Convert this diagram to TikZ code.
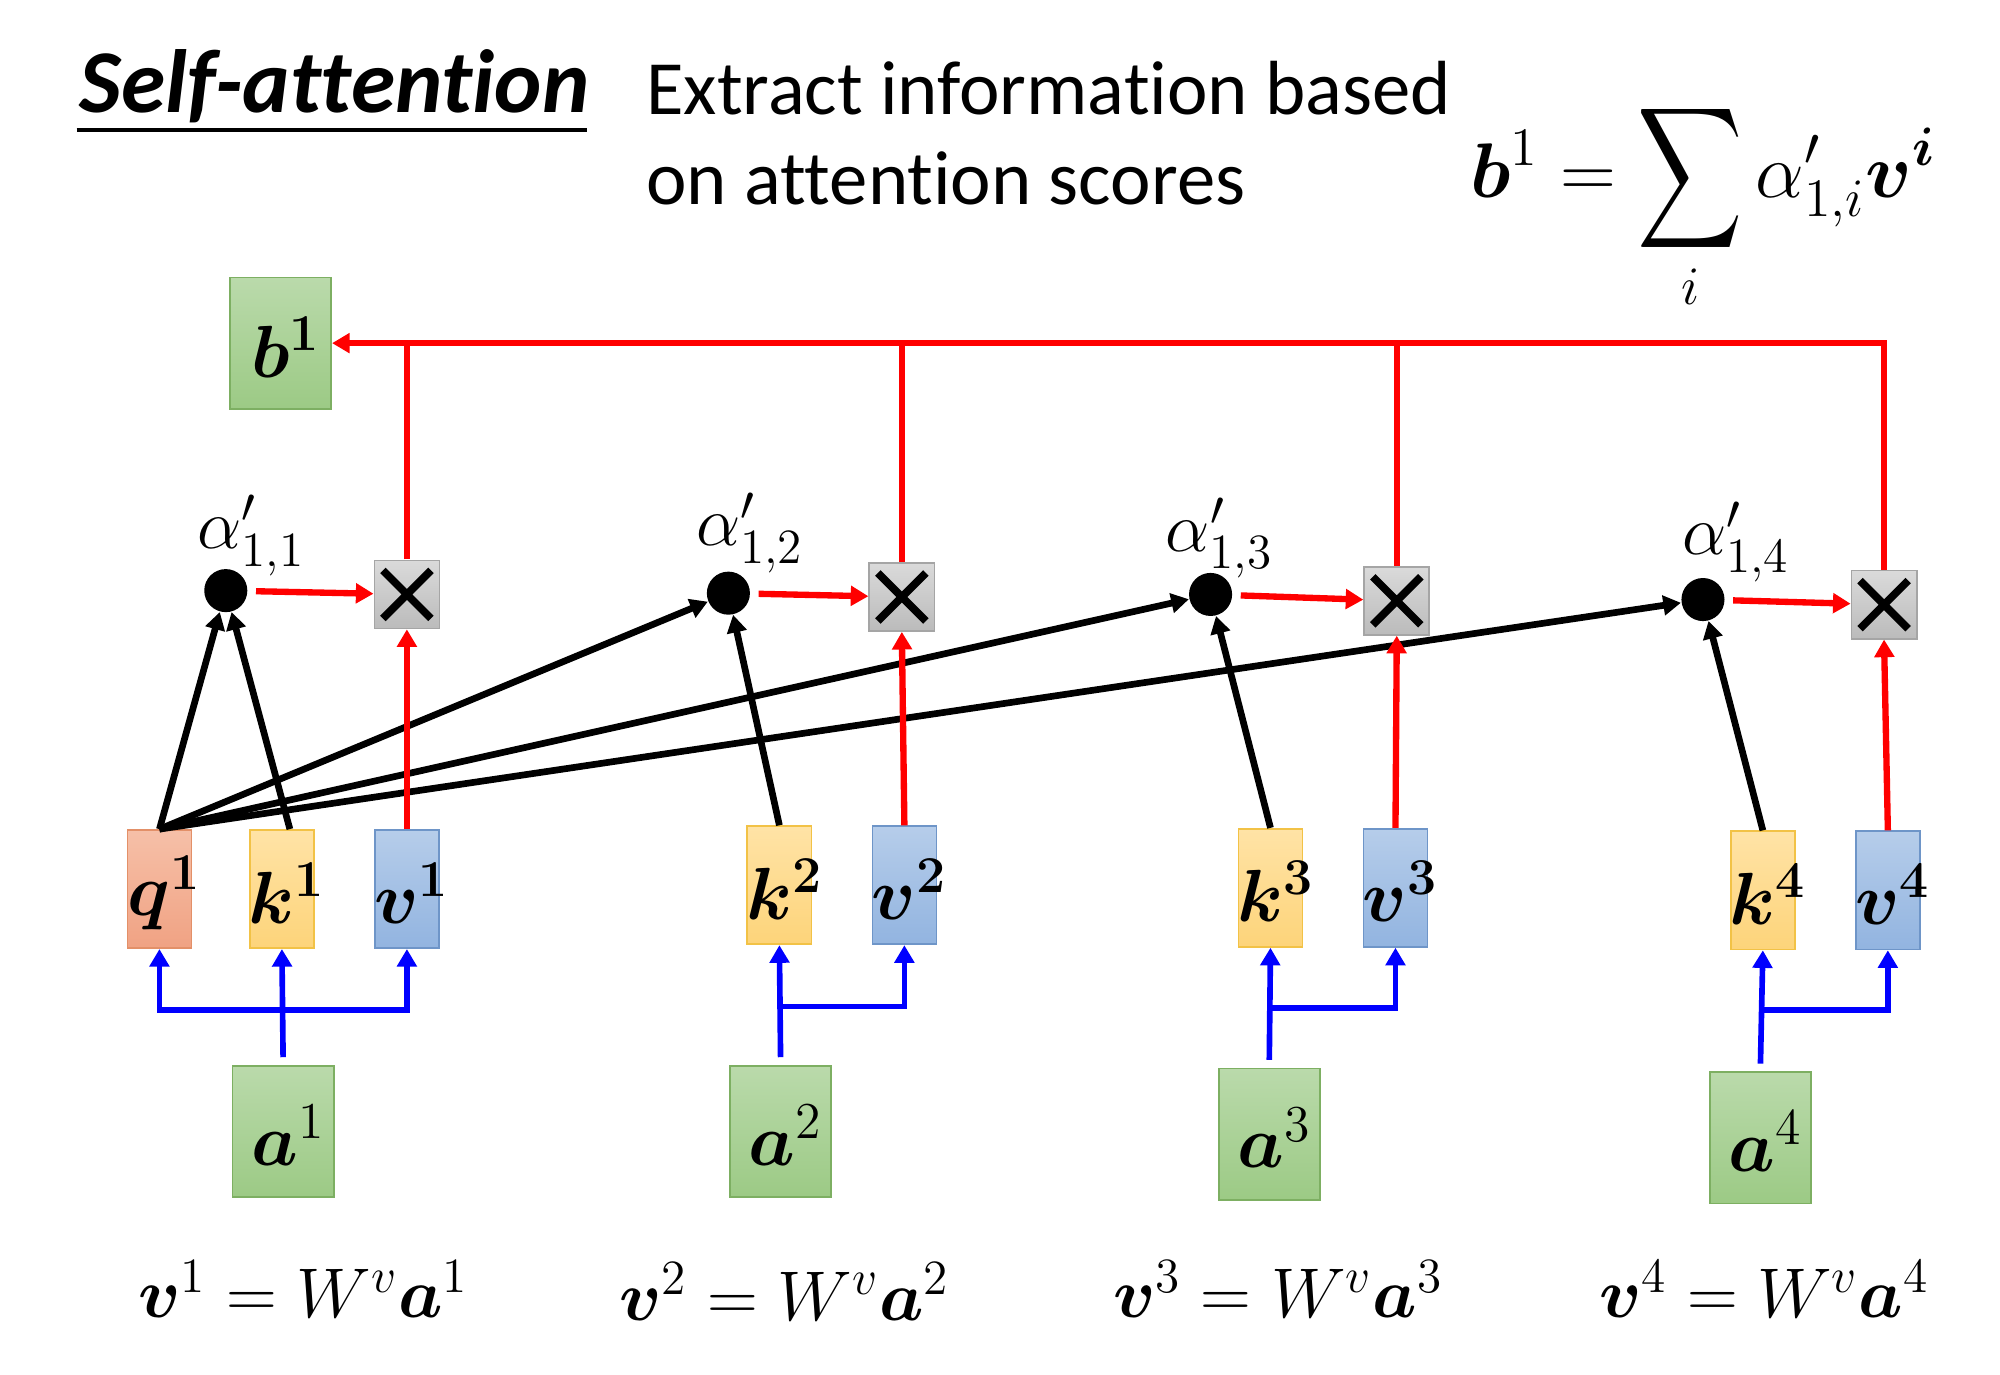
\RequirePackage{fix-cm}
\documentclass[tikz,border=0pt]{standalone}
\usepackage{amsmath}
\usepackage{bm}
\usepackage[no-math]{fontspec}
\setmainfont{Carlito}[Ligatures={NoCommon,NoRequired,NoContextual}]
\usetikzlibrary{arrows.meta}
\definecolor{qtop}{HTML}{F6C0A8}\definecolor{qbot}{HTML}{F0A283}\definecolor{qbd}{HTML}{E39068}
\definecolor{ktop}{HTML}{FFE3A6}\definecolor{kbot}{HTML}{FDD47A}\definecolor{kbd}{HTML}{F2C246}
\definecolor{vtop}{HTML}{B6CDEA}\definecolor{vbot}{HTML}{92B4E0}\definecolor{vbd}{HTML}{6E95C8}
\definecolor{gtop}{HTML}{BADAAB}\definecolor{gbot}{HTML}{9CCA85}\definecolor{gbd}{HTML}{7DAF62}
\definecolor{xtop}{HTML}{DADADA}\definecolor{xbot}{HTML}{BBBBBB}\definecolor{xbd}{HTML}{A5A5A5}
\definecolor{rd}{HTML}{FF0000}\definecolor{bl}{HTML}{0000FF}
\tikzset{
  vec/.style={minimum width=0.64cm, minimum height=1.18cm, inner sep=0pt, line width=0.5pt},
  qbox/.style={vec, draw=qbd, top color=qtop, bottom color=qbot},
  kbox/.style={vec, draw=kbd, top color=ktop, bottom color=kbot},
  vbox/.style={vec, draw=vbd, top color=vtop, bottom color=vbot},
  gbox/.style={minimum width=1.01cm, minimum height=1.31cm, inner sep=0pt, line width=0.5pt, draw=gbd, top color=gtop, bottom color=gbot},
  xbox/.style={minimum width=0.65cm, minimum height=0.68cm, inner sep=0pt, line width=0.5pt, draw=xbd, top color=xtop, bottom color=xbot,
    path picture={\draw[draw=black, line width=2.2pt] ([shift={(0.085cm,0.1cm)}]path picture bounding box.south west) -- ([shift={(-0.085cm,-0.1cm)}]path picture bounding box.north east)
      ([shift={(0.085cm,-0.1cm)}]path picture bounding box.north west) -- ([shift={(-0.085cm,0.1cm)}]path picture bounding box.south east);}},
  dotn/.style={circle, fill=black, minimum size=0.43cm, inner sep=0pt},
  lab/.style={inner sep=0pt, font=\fontsize{21}{25}\selectfont},
  alab/.style={inner sep=0pt, font=\fontsize{20}{24}\selectfont},
  eq/.style={inner sep=0pt, anchor=base west, font=\fontsize{20}{24}\selectfont},
  tip/.style={-{Triangle[length=5pt,width=5.5pt]}},
  redl/.style={draw=rd, line width=1.8pt},
  bluel/.style={draw=bl, line width=1.6pt},
  blackl/.style={draw=black, line width=1.9pt},
}
\begin{document}
\begin{tikzpicture}[x=0.0128cm,y=-0.0128cm]
\useasboundingbox (0,0) rectangle (1560,1072.5);
\begin{scope}[scale=0.995]
% title and text
\node[anchor=base west, inner sep=0pt, font=\fontsize{25.5}{29}\selectfont\bfseries\itshape] (title) at (62,88) {Self-attention};
\draw[line width=1.1pt] (60,102) -- (460,102);
\node[anchor=base west, inner sep=0pt, font=\fontsize{21.8}{25}\selectfont] (t1) at (506,90) {Extract information based};
\node[anchor=base west, inner sep=0pt, font=\fontsize{21.8}{25}\selectfont] (t2) at (506,160) {on attention scores};
\node[anchor=base west, inner sep=0pt, font=\fontsize{22}{26}\selectfont] (formula) at (1152,155) {$\displaystyle \bm{b}^1 = \mathop{\vcenter{\hbox{\scalebox{1}[1.35]{$\displaystyle\sum$}}}}\limits_i \alpha'_{1,i}\bm{v}^{\bm{i}}$};
% boxes
\node[gbox] (b1) at (220,269) {};
\node[lab] at (224,272) {$\bm{b^1}$};
\foreach \n/\x/\y in {1/319/466, 2/707/468, 3/1095/471, 4/1477/474} {\node[xbox] (x\n) at (\x,\y) {};}
\foreach \n/\x/\y in {1/177/463, 2/571/465, 3/949/466, 4/1335/470} {\node[dotn] (d\n) at (\x,\y) {};}
\node[alab] (al1) at (197,420) {$\alpha'_{1,1}$};
\node[alab] (al2) at (588,418) {$\alpha'_{1,2}$};
\node[alab] (al3) at (956,422) {$\alpha'_{1,3}$};
\node[alab] (al4) at (1361,425) {$\alpha'_{1,4}$};
\node[qbox] (q1) at (125,697) {};
\node[kbox] (k1) at (221,697) {};
\node[vbox] (v1) at (319,697) {};
\node[kbox] (k2) at (611,694) {};
\node[vbox] (v2) at (709,694) {};
\node[kbox] (k3) at (996,696) {};
\node[vbox] (v3) at (1094,696) {};
\node[kbox] (k4) at (1382,698) {};
\node[vbox] (v4) at (1480,698) {};
\node[lab] at (129,700) {$\bm{q^1}$};
\foreach \n/\kx/\vx/\y in {1/221/319/697, 2/611/709/694, 3/996/1094/696, 4/1382/1480/698} {
  \node[lab] at (\kx+4,\y+3) {$\bm{k^{\n}}$};
  \node[lab] at (\vx+4,\y+3) {$\bm{v^{\n}}$};
}
\node[gbox] (a1) at (222,887) {};
\node[gbox] (a2) at (612,887) {};
\node[gbox] (a3) at (995,889) {};
\node[gbox] (a4) at (1380,892) {};
\foreach \n/\x/\y in {1/222/887, 2/612/887, 3/995/889, 4/1380/892} {\node[lab] at (\x+4,\y+3) {$\bm{a}^{\n}$};}
% equations
\node[eq] (e1) at (108,1033) {$\bm{v}^1 = W^{v}\bm{a}^1$};
\node[eq] (e2) at (485,1035) {$\bm{v}^2 = W^{v}\bm{a}^2$};
\node[eq] (e3) at (872,1033) {$\bm{v}^3 = W^{v}\bm{a}^3$};
\node[eq] (e4) at (1253,1033) {$\bm{v}^4 = W^{v}\bm{a}^4$};
% blue connectors
\coordinate (j1) at (222,792);
\coordinate (j2) at (612,789);
\coordinate (j3) at (996,790);
\coordinate (j4) at (1382,792);
\draw[bluel, tip, shorten <=2.2pt] (a1.north) -- (k1.south);
\draw[bluel, tip] (j1) -| (q1.south);
\draw[bluel, tip] (j1) -| (v1.south);
\draw[bluel, tip, shorten <=2.2pt] (a2.north) -- (k2.south);
\draw[bluel, tip] (j2) -| (v2.south);
\draw[bluel, tip, shorten <=2.2pt] (a3.north) -- (k3.south);
\draw[bluel, tip] (j3) -| (v3.south);
\draw[bluel, tip, shorten <=2.2pt] (a4.north) -- (k4.south);
\draw[bluel, tip] (j4) -| (v4.south);
% black connectors
\draw[blackl, tip] (q1.north) -- (d1);
\draw[blackl, tip] ([xshift=0.08cm]k1.north) -- (d1);
\draw[blackl, tip] (q1.north) -- (d2);
\draw[blackl, tip] (q1.north) -- (d3);
\draw[blackl, tip] (q1.north) -- (d4);
\draw[blackl, tip] (k2.north) -- (d2);
\draw[blackl, tip] (k3.north) -- (d3);
\draw[blackl, tip] (k4.north) -- (d4);
% red connectors
\foreach \n in {1,2,3,4} {
  \draw[redl, tip, shorten <=0.08cm] (d\n) -- (x\n);
  \draw[redl, tip] (v\n.north) -- (x\n.south);
}
\coordinate (top) at (0,268);
\draw[redl] (x1.north) -- (x1.north |- top);
\draw[redl] (x2.north) -- (x2.north |- top);
\draw[redl] (x3.north) -- (x3.north |- top);
\draw[redl, tip] (x4.north) |- (b1.east);
\end{scope}
\end{tikzpicture}
\end{document}
